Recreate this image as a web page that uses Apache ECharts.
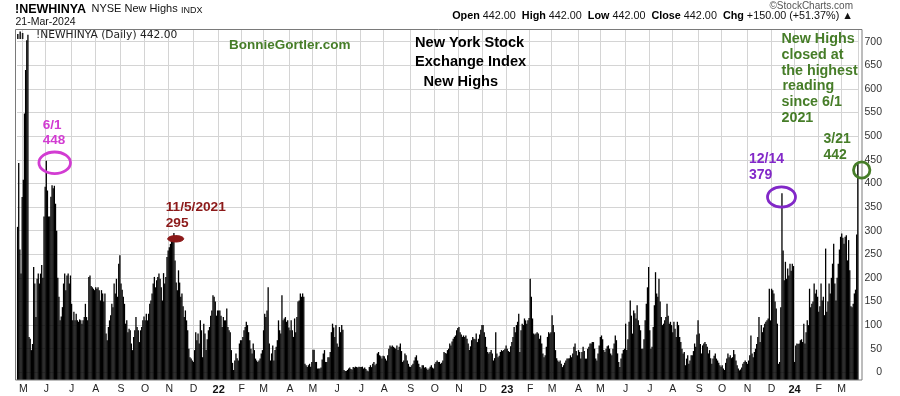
<!DOCTYPE html>
<html><head><meta charset="utf-8">
<script src="https://cdn.jsdelivr.net/npm/echarts@6/dist/echarts.min.js"></script>
<style>html,body{margin:0;padding:0;background:#fff}#c{width:900px;height:396px}</style>
</head><body><div id="c"></div>
<script>
// Month tick letters (Jan..Dec); January shows the 2-digit year in bold
const monthLetters = ['J','F','M','A','M','J','J','A','S','O','N','D'];
const yTicks = [0,50,100,150,200,250,300,350,400,450,500,550,600,650,700];

// NYSE New Highs, daily values, grouped by month (2021 starts in April)
const nh2021 = [
  [308, 443, 260, 209, 371],
  [408, 548, 640, 703, 715, 75, 71, 47, 60, 223, 188, 117, 198, 209, 188, 209, 227, 200, 330, 393],
  [448, 385, 330, 330, 372, 396, 390, 395, 357, 300, 200, 160, 110, 118, 138, 188, 209, 174, 205, 209, 188, 205],
  [145, 110, 128, 110, 124, 110, 107, 112, 110, 103, 110, 117, 145, 117, 110, 202, 205, 183, 180, 177, 174],
  [180, 177, 180, 174, 152, 174, 167, 150, 167, 82, 68, 96, 110, 121, 145, 138, 188, 167, 198, 160, 230, 248],
  [188, 175, 160, 145, 103, 110, 85, 92, 89, 61, 47, 75, 89, 117, 96, 89, 64, 89, 96, 110, 118],
  [110, 124, 110, 124, 145, 152, 167, 188, 202, 180, 195, 202, 209, 198, 180, 152, 210, 188, 202, 244, 258],
  [265, 272, 280, 287, 295, 237, 190, 174, 216, 190, 160, 167, 140, 117, 131, 110, 89, 50, 32, 29, 25],
  [22, 47, 85, 68, 82, 61, 110, 89, 32, 103, 82, 47, 70, 89, 96, 120, 131, 163, 160, 150, 120, 131]
];
const nh2022 = [
  [131, 131, 120, 96, 117, 110, 110, 135, 96, 89, 85, 47, 20, 5, 25, 40, 30, 25, 61, 68],
  [68, 75, 89, 96, 107, 100, 85, 68, 50, 40, 61, 47, 29, 25, 22, 25, 29, 40, 47],
  [89, 124, 117, 131, 180, 61, 25, 40, 57, 25, 47, 54, 68, 110, 89, 82, 163, 110, 114, 117, 107, 110, 95],
  [89, 110, 89, 75, 114, 85, 117, 150, 152, 167, 160, 167, 160, 18, 15, 11, 15, 18, 12, 22],
  [48, 48, 22, 22, 8, 8, 8, 10, 27, 40, 47, 22, 22, 32, 32, 43, 85, 103, 95, 75, 100],
  [61, 54, 96, 85, 100, 90, 5, 3, 3, 5, 8, 10, 7, 6, 11, 10, 12, 11, 10, 12, 11],
  [11, 12, 8, 10, 7, 4, 2, 11, 15, 11, 18, 22, 15, 18, 40, 43, 36, 34, 29, 35],
  [34, 29, 25, 36, 50, 57, 54, 57, 54, 52, 50, 57, 47, 54, 61, 45, 22, 25, 40, 36, 25, 18, 12],
  [11, 15, 18, 25, 32, 36, 25, 18, 11, 8, 15, 15, 10, 11, 8, 5, 8, 12, 15, 10, 8],
  [18, 22, 25, 22, 22, 18, 20, 25, 43, 41, 40, 47, 50, 61, 57, 65, 71, 75, 78, 89, 94],
  [96, 85, 80, 75, 78, 75, 78, 71, 61, 47, 55, 68, 75, 71, 70, 82, 64, 71, 80, 90, 100],
  [100, 85, 75, 54, 43, 40, 43, 47, 40, 25, 30, 85, 40, 32, 35, 43, 47, 45, 47, 50, 57]
];
const nh2023 = [
  [50, 45, 43, 55, 64, 75, 96, 85, 100, 107, 124, 43, 89, 103, 100, 114, 110, 103, 110, 115],
  [198, 160, 114, 82, 80, 82, 85, 82, 71, 78, 61, 40, 32, 36, 54, 75, 85, 82, 85],
  [121, 100, 85, 47, 30, 25, 22, 25, 18, 11, 15, 20, 25, 29, 29, 30, 36, 32, 40, 54, 61, 45, 36],
  [47, 43, 29, 43, 54, 45, 29, 29, 50, 54, 61, 61, 64, 64, 50, 29, 25, 40, 57],
  [75, 78, 70, 47, 43, 50, 55, 57, 50, 40, 36, 50, 61, 78, 68, 40, 22, 11, 29, 40, 47, 50],
  [103, 47, 70, 107, 152, 120, 82, 131, 125, 114, 142, 110, 100, 89, 50, 50, 70, 110, 145, 180, 223],
  [89, 50, 54, 96, 142, 212, 167, 160, 198, 150, 117, 100, 103, 110, 117, 145, 120, 103, 107, 100],
  [85, 107, 92, 75, 107, 100, 75, 64, 50, 40, 43, 15, 29, 36, 18, 25, 36, 36, 45, 61, 54, 80, 110],
  [82, 60, 40, 57, 61, 64, 60, 54, 40, 47, 30, 18, 29, 35, 40, 29, 25, 20, 15, 12],
  [15, 8, 5, 20, 29, 40, 32, 36, 30, 32, 47, 38, 25, 15, 8, 4, 6, 10, 18, 22, 25, 22],
  [18, 25, 36, 78, 40, 32, 43, 50, 60, 75, 117, 64, 100, 85, 95, 103, 107, 110, 114, 177, 110],
  [177, 174, 167, 150, 135, 103, 18, 22, 138, 379, 258, 195, 234, 198, 220, 205, 230, 215, 230, 225]
];
const nh2024 = [
  [22, 57, 61, 60, 61, 68, 70, 64, 103, 61, 85, 110, 100, 177, 138, 145, 150, 188, 167, 175, 160],
  [128, 140, 188, 152, 160, 121, 262, 128, 150, 188, 167, 200, 230, 272, 188, 152, 200, 230, 260, 287],
  [294, 285, 272, 287, 290, 237, 280, 216, 140, 138, 145, 167, 175, 292, 442]
];

const blocks = [
  {year: 2021, first: 4, months: nh2021},
  {year: 2022, first: 1, months: nh2022},
  {year: 2023, first: 1, months: nh2023},
  {year: 2024, first: 1, months: nh2024}
];

const cats = [], vals = [], monthStart = {};
blocks.forEach(b => b.months.forEach((arr, mi) => {
  const m = b.first + mi;
  arr.forEach((v, d) => {
    const idx = cats.length;
    if (d === 0 && idx > 0) monthStart[idx] = {m: m, y: b.year};
    cats.push(b.year + '-' + String(m).padStart(2, '0') + '-' + (d + 1));
    vals.push(v);
  });
}));
const isMonthStart = (i) => monthStart[i] !== undefined;

const FONT = '"Liberation Sans", Arial, sans-serif';
const GREEN = '#467d28', PURPLE = '#8228c8', MAGENTA = '#d23cd2', DRED = '#8c1919';

function txt(text, x, y, size, color, bold, align, family) {
  return {type: 'text', z: 200, style: {text: text, x: x, y: y, fill: color,
    font: (bold ? 'bold ' : '') + size + 'px ' + (family || FONT),
    align: align || 'left', verticalAlign: 'middle'}};
}

const chart = echarts.init(document.getElementById('c'), null, {renderer: 'canvas'});
chart.setOption({
  backgroundColor: '#fff',
  animation: false,
  grid: {left: 17, right: 41.6, top: 29, bottom: 16, containLabel: false, outerBoundsMode: 'none'},
  xAxis: {
    type: 'category', data: cats, boundaryGap: true,
    axisLine: {show: false}, axisTick: {show: false},
    axisLabel: {
      interval: (i) => isMonthStart(i),
      formatter: (v, i) => {
        const ms = monthStart[i];
        if (!ms) return '';
        return ms.m === 1 ? '{y|' + String(ms.y).slice(2) + '}' : monthLetters[ms.m - 1];
      },
      margin: 4, fontFamily: FONT, fontSize: 10.5, color: '#222',
      rich: {y: {fontWeight: 'bold', fontSize: 11, fontFamily: FONT, color: '#111'}}
    },
    splitLine: {show: true, interval: (i) => isMonthStart(i), lineStyle: {color: '#d4d4d4', width: 1}}
  },
  yAxis: {
    type: 'value', position: 'right', min: -16.3, max: 727, scale: false,
    axisLine: {show: false},
    axisTick: {show: false, customValues: yTicks},
    axisLabel: {customValues: yTicks, align: 'right', margin: 23.6,
      fontFamily: '"Liberation Sans Narrow", "Liberation Sans", Arial, sans-serif', fontSize: 10.5, color: '#333'},
    splitLine: {show: true, lineStyle: {color: '#d4d4d4', width: 1}}
  },
  series: [{
    type: 'custom',
    data: vals.map((v, i) => [i, v]),
    encode: {x: 0, y: 1},
    renderItem: (params, api) => {
      const p = api.coord([api.value(0), api.value(1)]);
      const w = api.size([1, 0])[0];
      const bottom = params.coordSys.y + params.coordSys.height;
      const bw = w + 0.15;
      return {type: 'rect', shape: {x: p[0] - bw / 2, y: p[1], width: bw, height: bottom - p[1]},
        style: {fill: '#000'}};
    }
  }],
  graphic: [
    // plot frame
    {type: 'rect', z: 150, shape: {x: 15.5, y: 29.5, width: 846.5, height: 350.5},
      style: {fill: 'none', stroke: '#7a7a7a', lineWidth: 1}},
    // header
    txt('!NEWHINYA', 15, 9.2, 12.5, '#000', true),
    txt('NYSE New Highs', 91.5, 9.4, 11, '#111', false),
    txt('INDX', 181, 10.1, 9, '#111', false),
    txt('21-Mar-2024', 15.5, 22.3, 10.5, '#111', false),
    txt('\u00A9StockCharts.com', 853, 6, 10, '#555', false, 'right'),
    {type: 'text', z: 200, style: {
      text: '{b|Open} 442.00  {b|High} 442.00  {b|Low} 442.00  {b|Close} 442.00  {b|Chg} +150.00 (+51.37%) \u25B2',
      x: 853, y: 15.7, align: 'right', verticalAlign: 'middle', fill: '#111',
      fontSize: 10.8, fontFamily: FONT,
      rich: {b: {fontWeight: 'bold', fontSize: 10.8, fontFamily: FONT, fill: '#000'}}}},
    // legend glyph + text inside plot
    {type: 'rect', z: 200, shape: {x: 17, y: 34, width: 1.6, height: 5}, style: {fill: '#222'}},
    {type: 'rect', z: 200, shape: {x: 19.4, y: 31.5, width: 1.6, height: 7.5}, style: {fill: '#222'}},
    {type: 'rect', z: 200, shape: {x: 21.8, y: 33, width: 1.6, height: 6}, style: {fill: '#222'}},
    txt('!NEWHINYA (Daily) 442.00', 36, 35.3, 10.7, '#222', false, 'left', '"DejaVu Sans", Verdana, sans-serif'),
    // annotations
    txt('BonnieGortler.com', 229, 45, 13.5, GREEN, true),
    txt('New York Stock', 415, 42.5, 14.6, '#000', true),
    txt('Exchange Index', 415, 62, 14.6, '#000', true),
    txt('New Highs', 423.5, 82, 14.6, '#000', true),
    txt('New Highs', 781.5, 39, 14.3, GREEN, true),
    txt('closed at', 781.5, 54.8, 14.3, GREEN, true),
    txt('the highest', 781.5, 70.6, 14.3, GREEN, true),
    txt('reading', 782.5, 86.4, 14.3, GREEN, true),
    txt('since 6/1', 781.5, 102.2, 14.3, GREEN, true),
    txt('2021', 781.5, 118, 14.3, GREEN, true),
    txt('3/21', 823.5, 139, 14, GREEN, true),
    txt('442', 823.5, 154.7, 14, GREEN, true),
    txt('12/14', 749, 158.7, 14, PURPLE, true),
    txt('379', 749, 175, 14, PURPLE, true),
    txt('6/1', 42.7, 125, 13.5, MAGENTA, true),
    txt('448', 42.7, 140.5, 13.5, MAGENTA, true),
    txt('11/5/2021', 165.7, 207, 13.7, DRED, true),
    txt('295', 165.7, 223.7, 13.7, DRED, true),
    {type: 'ellipse', z: 200, shape: {cx: 861.7, cy: 170, rx: 8.2, ry: 8.2}, style: {fill: 'none', stroke: GREEN, lineWidth: 2.8}},
    {type: 'ellipse', z: 200, shape: {cx: 781.5, cy: 197, rx: 14, ry: 10.2}, style: {fill: 'none', stroke: PURPLE, lineWidth: 2.8}},
    {type: 'ellipse', z: 200, shape: {cx: 54.7, cy: 162.8, rx: 15.8, ry: 10.8}, style: {fill: 'none', stroke: MAGENTA, lineWidth: 2.8}},
    {type: 'ellipse', z: 200, shape: {cx: 175.7, cy: 238.8, rx: 8, ry: 3.2}, style: {fill: DRED, stroke: DRED, lineWidth: 1}}
  ]
});
</script>
</body></html>
